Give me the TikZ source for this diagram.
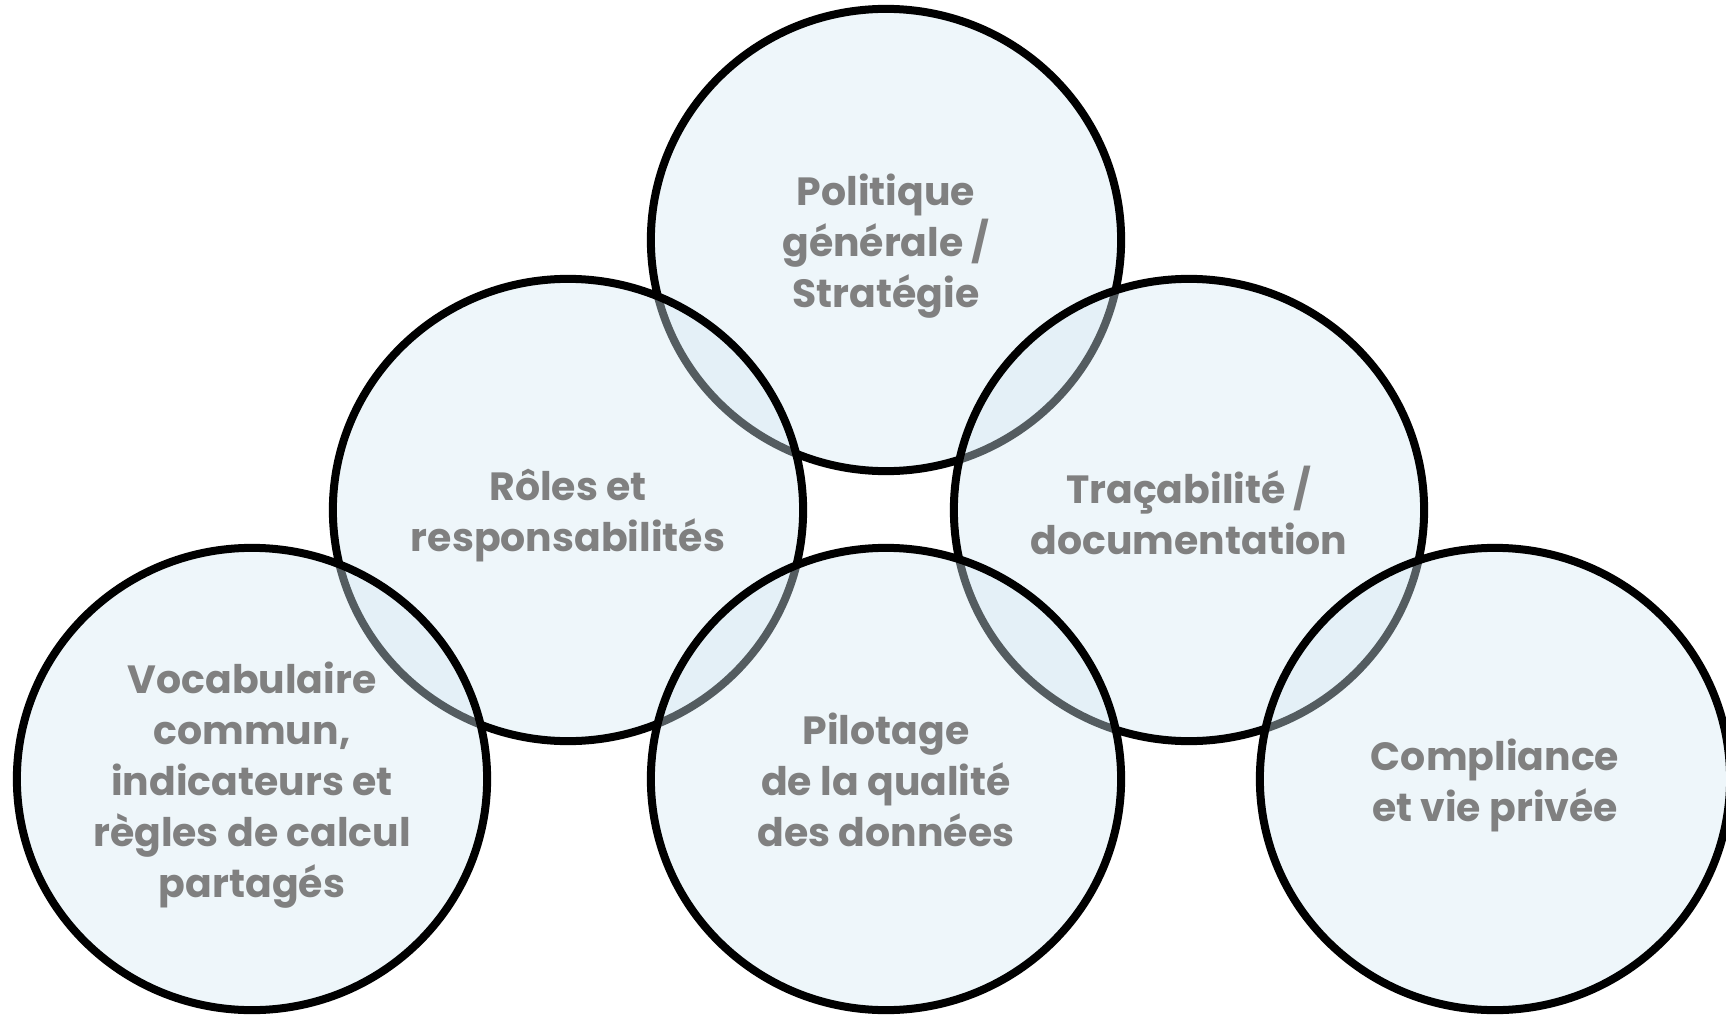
\documentclass[tikz,border=0pt]{standalone}
\usepackage{fontspec}
\setmainfont{Poppins}
\usetikzlibrary{shapes.geometric}
\definecolor{bullefill}{rgb}{0.83,0.91,0.95}
\definecolor{textegris}{RGB}{128,128,128}
\tikzset{
  bulle/.style={ellipse, draw=black, line width=0.08cm, fill=bullefill,
    fill opacity=0.4, draw opacity=1, inner sep=0pt,
    minimum width=4.7cm, minimum height=4.62cm},
  texte/.style={align=center, inner sep=0pt, text opacity=1, yshift=-0.06cm,
    text=textegris, font=\fontsize{11.2}{14.5}\selectfont\bfseries,
    execute at end node=\vphantom{p}}
}
\begin{document}
\begin{tikzpicture}[x=0.01cm,y=-0.01cm]
   \useasboundingbox (0,0) rectangle (1726,1015);
   % rangee du haut
   \node[bulle, label={[texte]center:Politique\\générale /\\Stratégie}] (politique) at (886,240) {};
   % rangee du milieu
   \node[bulle, label={[texte]center:Rôles et\\responsabilités}] (roles) at (568,510) {};
   \node[bulle, label={[texte]center:Traçabilité /\\documentation}] (tracabilite) at (1189,510) {};
   % rangee du bas
   \node[bulle, label={[texte]center:Vocabulaire\\commun,\\indicateurs et\\règles de calcul\\partagés}] (vocabulaire) at (252,779) {};
   \node[bulle, label={[texte]center:Pilotage\\de la qualité\\des données}] (pilotage) at (886,779) {};
   \node[bulle, label={[texte]center:Compliance\\et vie privée}] (compliance) at (1495,779) {};
\end{tikzpicture}
\end{document}
